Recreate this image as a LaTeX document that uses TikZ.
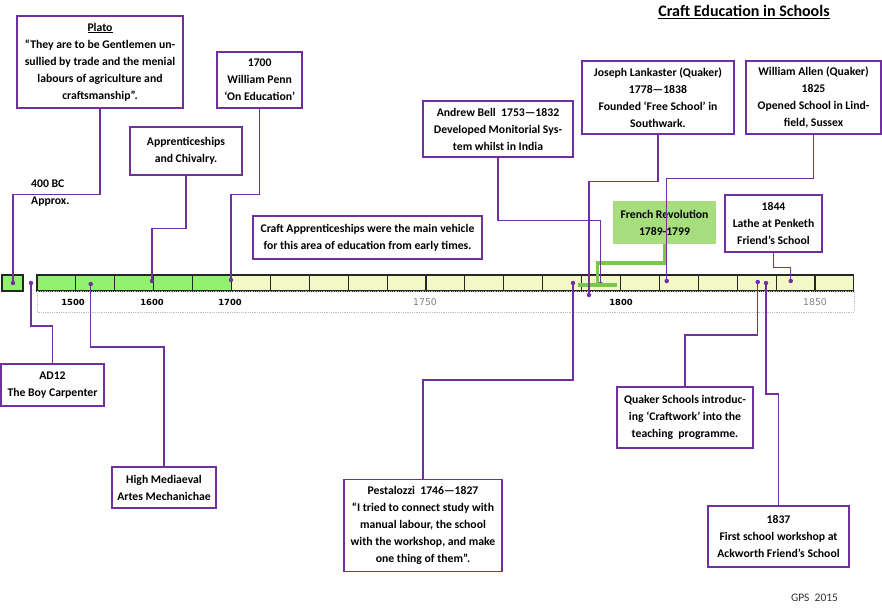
\documentclass[tikz,border=0pt]{standalone}
\usepackage{fontspec}
\setmainfont{Carlito}
\newfontfamily\tickfont{DejaVu Sans}
\usetikzlibrary{positioning, calc}

\definecolor{evline}{HTML}{7030A0}
\definecolor{cellgreen}{HTML}{92F270}
\definecolor{cellyellow}{HTML}{F2F9C6}
\definecolor{revfill}{HTML}{A6DE7E}
\definecolor{revline}{HTML}{78C850}

\tikzset{
  event/.style={draw=evline, line width=1.6pt, fill=white, align=center, inner sep=0pt,
    font=\bfseries\fontsize{11.7}{17}\selectfont},
  link/.style={evline, line width=1.2pt},
  evdot/.style={circle, fill=evline, inner sep=0pt, minimum size=4.5pt},
  cell/.style={draw=black!85, line width=1.1pt},
  ticklab/.style={font=\tickfont\fontsize{9.3}{11}\selectfont},
}

\begin{document}
\begin{tikzpicture}[x=1pt, y=-1pt]
    \useasboundingbox (0,0) rectangle (882,607);

    % Timeline
    \draw[cell, fill=cellgreen] (2,275) rectangle (23,291);
    \foreach \i in {0,...,4}
        \draw[cell, fill=cellgreen] (37+\i*38.9,275) rectangle ++(38.9,16);
    \foreach \i in {5,...,20}
        \draw[cell, fill=cellyellow] (37+\i*38.9,275) rectangle ++(38.9,16);
    \draw[densely dotted, black!25, line width=0.8pt] (37,291) rectangle (854,312);

    \foreach \yr/\xx in {1500/73, 1600/152, 1700/230, 1800/621}
        \node[ticklab, font=\tickfont\bfseries\fontsize{8.4}{10}\selectfont] (t\yr) at (\xx,302) {\yr};
    \foreach \yr/\xx in {1750/425, 1850/815}
        \node[ticklab, text=black!50] (t\yr) at (\xx,302) {\yr};

    % Title
    \node[font=\bfseries\fontsize{16}{18}\selectfont] (title) at (744,12) {\underline{Craft Education in Schools}};
    \node[font=\fontsize{11.5}{13}\selectfont, text=black!80] (gps) at (814.5,598) {GPS\ \ 2015};

    % Events above
    \node[event, minimum width=166pt, minimum height=92pt] (plato) at (100,62)
        {\underline{Plato}\\“They are to be Gentlemen un-\\sullied by trade and the menial\\labours of agriculture and\\craftsmanship”.};
    \node[event, minimum width=85pt, minimum height=56pt] (penn) at (259.7,80)
        {1700\\William Penn\\‘On Education’};
    \node[event, minimum width=112pt, minimum height=48pt] (appr) at (186,151)
        {Apprenticeships\\and Chivalry.};
    \node[event, minimum width=229pt, minimum height=43pt] (craft) at (367.5,237.5)
        {Craft Apprenticeships were the main vehicle\\for this area of education from early times.};
    \node[event, minimum width=150pt, minimum height=56pt] (bell) at (498,129)
        {Andrew Bell\ \ 1753—1832\\Developed Monitorial Sys-\\tem whilst in India};
    \node[event, minimum width=152pt, minimum height=73pt] (lank) at (658,97.5)
        {Joseph Lankaster (Quaker)\\1778—1838\\Founded ‘Free School’ in\\Southwark.};
    \node[event, minimum width=135pt, minimum height=73pt] (allen) at (813.5,97.5)
        {William Allen (Quaker)\\1825\\Opened School in Lind-\\field, Sussex};
    \node[event, draw=revfill, fill=revfill, minimum width=101pt, minimum height=41pt] (frev) at (664.5,222.5)
        {French Revolution\\1789-1799};
    \node[event, minimum width=97pt, minimum height=57pt] (p1844) at (773.5,223.5)
        {1844\\Lathe at Penketh\\Friend’s School};
    \node[font=\bfseries\fontsize{11.7}{17}\selectfont, align=left, anchor=west, inner sep=0pt] (bc) at (31,193.5)
        {400 BC\\Approx.};

    % Events below
    \node[event, minimum width=103pt, minimum height=42pt] (ad12) at (52.5,385)
        {AD12\\The Boy Carpenter};
    \node[event, minimum width=104pt, minimum height=41pt] (high) at (164,487.5)
        {High Mediaeval\\Artes Mechanichae};
    \node[event, minimum width=158pt, minimum height=92pt] (pest) at (423,525.5)
        {Pestalozzi\ \ 1746—1827\\“I tried to connect study with\\manual labour, the school\\with the workshop, and make\\one thing of them”.};
    \node[event, minimum width=136pt, minimum height=61pt] (quaker) at (685,417.5)
        {Quaker Schools introduc-\\ing ‘Craftwork’ into the\\teaching\ \ programme.};
    \node[event, minimum width=141pt, minimum height=61pt] (p1837) at (778.5,536.5)
        {1837\\First school workshop at\\Ackworth Friend’s School};

    % Dates on the line
    \node[evdot] (dBC) at (13,283) {};
    \node[evdot] (dAD) at (31,283) {};
    \node[evdot] (dHigh) at (90.7,284) {};
    \node[evdot] (d1600) at (152,281) {};
    \node[evdot] (d1700) at (231,280) {};
    \node[evdot] (dPest) at (573,283) {};
    \node[evdot] (dLank) at (589,295) {};
    \node[evdot] (dBell) at (600.7,284) {};
    \node[evdot] (dAllen) at (666.7,281) {};
    \node[evdot] (dQuak) at (757.7,282) {};
    \node[evdot] (d1837) at (766,283) {};
    \node[evdot] (d1844) at (790.7,281) {};
    \coordinate (revbar) at (597.3,285);

    % French Revolution span
    \draw[revline, line width=3.5pt] (frev.south) -- ++(0,19) -| (revbar);
    \draw[revline, line width=3.5pt] ([xshift=-19.5pt]revbar) -- ([xshift=19.5pt]revbar);

    % Connectors
    \draw[link] (plato.south) -- ++(0,86) -| (dBC);
    \draw[link] (penn.south) -- ++(0,86) -| (d1700);
    \draw[link] (appr.south) -- ++(0,53) -| (d1600);
    \draw[link] (bell.south) -- ++(0,63) -| (dBell);
    \draw[link] (lank.south) -- ++(0,47) -| (dLank);
    \draw[link] (allen.south) -- ++(0,44) -| (dAllen);
    \draw[link] (p1844.south) -- ++(0,15) -| (d1844);
    \draw[link] (dAD) -- ++(0,43) -| (ad12.north);
    \draw[link] (dHigh) -- ++(0,63) -| (high.north);
    \draw[link] (dPest) -- ++(0,97) -| (pest.north);
    \draw[link] (dQuak) -- ++(0,53) -| (quaker.north);
    \draw[link] (d1837) -- ++(0,111) -| (p1837.north);
\end{tikzpicture}
\end{document}
